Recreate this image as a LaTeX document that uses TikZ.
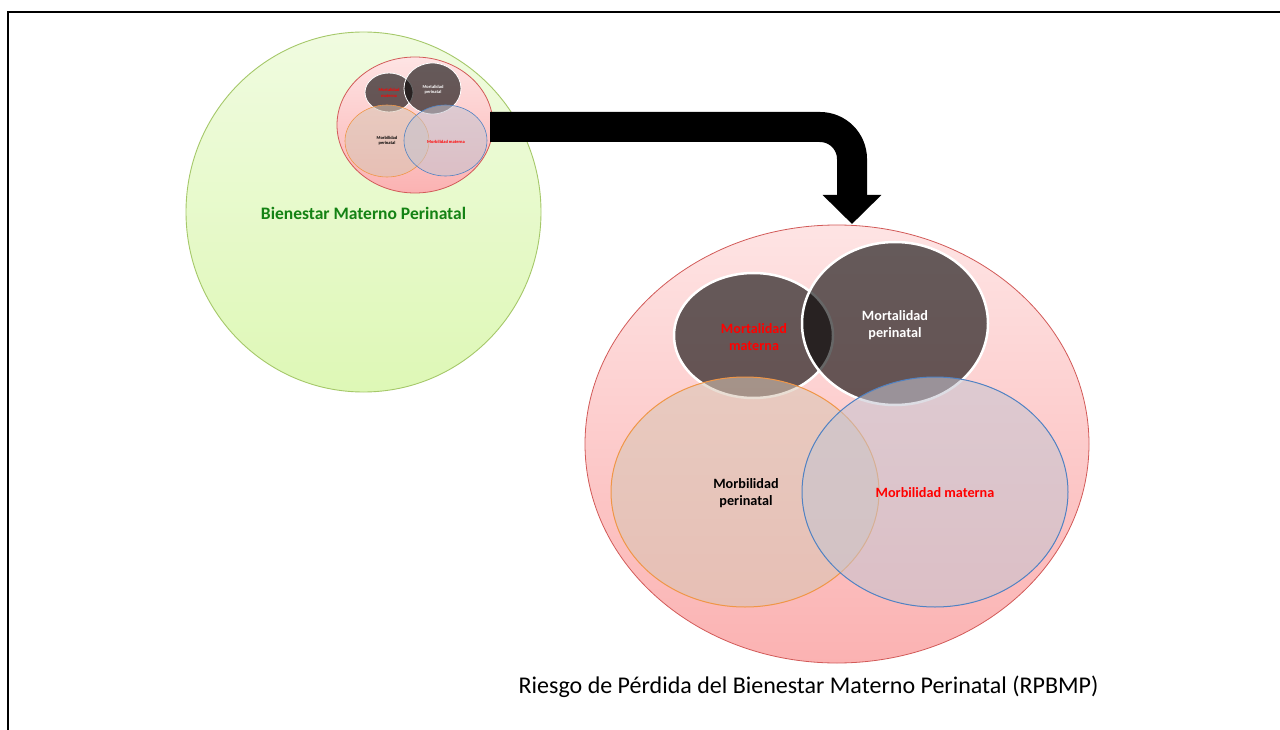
\documentclass[tikz,border=0pt]{standalone}
\usepackage{fontspec}
\setmainfont{Carlito}
\usetikzlibrary{shapes.geometric,arrows.meta}
\definecolor{greenborder}{RGB}{165,200,105}
\definecolor{greentop}{RGB}{240,251,224}
\definecolor{greenbot}{RGB}{222,248,182}
\definecolor{pinkborder}{RGB}{210,90,88}
\definecolor{pinktop}{RGB}{254,228,228}
\definecolor{pinkbot}{RGB}{251,178,178}
\definecolor{orangeborder}{RGB}{240,150,70}
\definecolor{orangefill}{RGB}{216,197,179}
\definecolor{blueborder}{RGB}{80,130,195}
\definecolor{bluefill}{RGB}{196,196,208}
\definecolor{titlegreen}{RGB}{20,130,20}
\definecolor{lblred}{RGB}{255,0,0}
\tikzset{
  ell/.style={ellipse, inner sep=0pt, outer sep=0pt},
  greencirc/.style={ell, draw=greenborder, line width=0.9pt, top color=greentop, bottom color=greenbot},
  pinkcirc/.style={ell, draw=pinkborder, line width=0.8pt, top color=pinktop, bottom color=pinkbot},
  darkcirc/.style={ell, fill=black, fill opacity=0.6, draw=white, draw opacity=1},
  orangecirc/.style={ell, fill=orangefill, fill opacity=0.56, draw=orangeborder, draw opacity=1},
  bluecirc/.style={ell, fill=bluefill, fill opacity=0.56, draw=blueborder, draw opacity=1},
  biglbl/.style={font=\bfseries\fontsize{14.2}{17}\selectfont, align=center, inner sep=0pt},
  smalllbl/.style={font=\bfseries\fontsize{4.5}{5.4}\selectfont, align=center, inner sep=0pt},
  blockarrow/.style={line width=30pt, -{Triangle[length=29pt 0,width=57pt 0]}, rounded corners=32pt}
}
\begin{document}
\begin{tikzpicture}[x=1pt,y=-1pt]
\useasboundingbox (0,0) rectangle (1280,730);
\fill[white] (0,0) rectangle (1280,730);
% frame
\draw[line width=2pt] (7.7,730) -- (7.7,12) -- (1280,12);

% small diagram
\node[greencirc, minimum width=355pt, minimum height=360pt] (green) at (363.5,212) {};
\node[font=\bfseries\fontsize{17.5}{20}\selectfont, text=titlegreen] (greenlbl) at (363.5,213) {Bienestar Materno Perinatal};
\node[pinkcirc, minimum width=156pt, minimum height=136pt] (smallpink) at (415,125) {};
\node[darkcirc, line width=0.8pt, minimum width=48pt, minimum height=39pt] (sdark1) at (389,92.5) {};
\node[darkcirc, line width=0.8pt, minimum width=57pt, minimum height=51pt] (sdark2) at (432.5,88.5) {};
\node[orangecirc, line width=0.6pt, minimum width=84pt, minimum height=72pt] (sorange) at (387,141) {};
\node[bluecirc, line width=0.6pt, minimum width=83pt, minimum height=71pt] (sblue) at (445.5,140.5) {};
\node[smalllbl, text=lblred] (sl1) at (389,93) {Mortalidad\\materna};
\node[smalllbl, text=white] (sl2) at (433,89.5) {Mortalidad\\perinatal};
\node[smalllbl, text=black] (sl3) at (387,140.5) {Morbilidad\\perinatal};
\node[smalllbl, text=lblred] (sl4) at (446,142) {Morbilidad materna};

% large diagram
\node[pinkcirc, minimum width=504pt, minimum height=438pt] (bigpink) at (837,444) {};
\node[darkcirc, line width=2.5pt, minimum width=159pt, minimum height=125pt] (dark1) at (753.5,335.5) {};
\node[darkcirc, line width=2.5pt, minimum width=186pt, minimum height=163pt] (dark2) at (895,323.5) {};
\node[orangecirc, line width=1pt, minimum width=268pt, minimum height=230pt] (orange) at (745,492) {};
\node[bluecirc, line width=1pt, minimum width=266pt, minimum height=230pt] (blue) at (935,492) {};
\node[biglbl, text=lblred] (l1) at (754,337) {Mortalidad\\materna};
\node[biglbl, text=white] (l2) at (895,325) {Mortalidad\\perinatal};
\node[biglbl, text=black] (l3) at (746,493) {Morbilidad\\perinatal};
\node[biglbl, text=lblred] (l4) at (935,493) {Morbilidad materna};

% arrow
\coordinate (arrowtip) at (852,224);
\draw[blockarrow] ([shift={(-3pt,-2pt)}]smallpink.east) -| (arrowtip);

% caption
\node[font=\fontsize{24}{28}\selectfont, inner sep=0pt] (caption) at (808.5,687) {Riesgo de Pérdida del Bienestar Materno Perinatal (RPBMP)};
\end{tikzpicture}
\end{document}
